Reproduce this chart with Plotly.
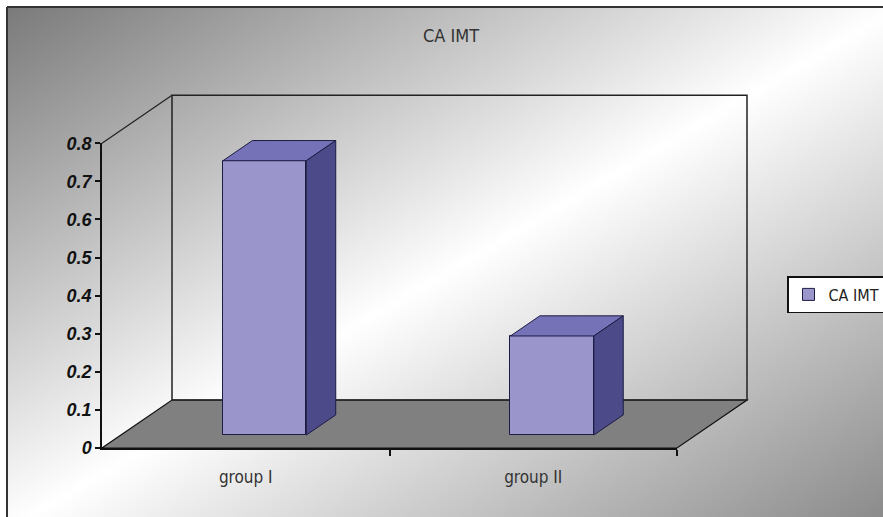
import base64
import plotly.graph_objects as go

# ---- data ----
CATEGORIES = ["group I", "group II"]
VALUES = [0.72, 0.26]
SERIES_NAME = "CA IMT"
TITLE = "CA IMT"
Y_MAX = 0.8
Y_DTICK = 0.1

# ---- styling / geometry constants ----
W, H = 883, 517
FONT = "Liberation Sans Narrow, Arial Narrow, DejaVu Sans Condensed, Liberation Sans, sans-serif"
FRONT_C = "#9a96cc"
TOP_C = "#7672b7"
SIDE_C = "#4c4a89"
EDGE_C = "#1c1c44"
FLOOR_C = "#808080"

# pixel mapping of the "front plane"
X0_PX, X_UNIT = 102, 287.5     # px of x=-0.5 and px per category
Y0_PX, Y_UNIT = 448, 381.0     # px of y=0 and px per value unit
DX, DY = 70 / X_UNIT, 48 / Y_UNIT   # depth offset in data units
D0, D1, HW = 0.27, 0.69, 0.145       # bar depth span and half width

x_lo = -0.5 - X0_PX / X_UNIT
x_hi = -0.5 + (W - X0_PX) / X_UNIT
y_hi = Y0_PX / Y_UNIT
y_lo = -(H - Y0_PX) / Y_UNIT
nc = len(CATEGORIES)
xl, xr = -0.5, nc - 0.5

fig = go.Figure()

# front faces as real bars
fig.add_trace(go.Bar(
    x=[i + D0 * DX for i in range(nc)], y=VALUES, base=[D0 * DY] * nc,
    width=2 * HW, name=SERIES_NAME,
    marker=dict(color=FRONT_C, line=dict(color=EDGE_C, width=1)),
    showlegend=True, hoverinfo="skip",
))

# top and side faces
for i, v in enumerate(VALUES):
    xf_l, xf_r = i - HW + D0 * DX, i + HW + D0 * DX
    xb_l, xb_r = i - HW + D1 * DX, i + HW + D1 * DX
    fig.add_trace(go.Scatter(
        x=[xf_l, xf_r, xb_r, xb_l, xf_l],
        y=[v + D0 * DY, v + D0 * DY, v + D1 * DY, v + D1 * DY, v + D0 * DY],
        fill="toself", fillcolor=TOP_C, mode="lines",
        line=dict(color=EDGE_C, width=1), showlegend=False, hoverinfo="skip"))
    fig.add_trace(go.Scatter(
        x=[xf_r, xf_r, xb_r, xb_r, xf_r],
        y=[D0 * DY, v + D0 * DY, v + D1 * DY, D1 * DY, D0 * DY],
        fill="toself", fillcolor=SIDE_C, mode="lines",
        line=dict(color=EDGE_C, width=1), showlegend=False, hoverinfo="skip"))

# invisible trace for the front-plane axes
fig.add_trace(go.Scatter(x=list(range(nc)), y=[0] * nc, xaxis="x2", yaxis="y2",
                         mode="markers", marker=dict(opacity=0),
                         showlegend=False, hoverinfo="skip"))

shapes = []
# floor
shapes.append(dict(
    type="path", xref="x", yref="y", layer="below",
    path=f"M {xl},0 L {xr},0 L {xr + DX},{DY} L {xl + DX},{DY} Z",
    fillcolor=FLOOR_C, line=dict(color="#111", width=1.2)))
# back wall
shapes.append(dict(type="rect", xref="x", yref="y", layer="below",
                   x0=xl + DX, x1=xr + DX, y0=DY, y1=Y_MAX + DY,
                   line=dict(color="#222", width=1.5)))
# left wall top edge
shapes.append(dict(type="line", xref="x", yref="y", layer="below",
                   x0=xl, y0=Y_MAX, x1=xl + DX, y1=Y_MAX + DY,
                   line=dict(color="#222", width=1.2)))
# outer chart border (left and top)
shapes.append(dict(type="line", xref="paper", yref="paper",
                   x0=7 / W, x1=7 / W, y0=-0.05, y1=1 - 7 / H,
                   line=dict(color="#333", width=2)))
shapes.append(dict(type="line", xref="paper", yref="paper",
                   x0=7 / W, x1=1.05, y0=1 - 7 / H, y1=1 - 7 / H,
                   line=dict(color="#333", width=2)))

# gradient background as SVG
svg = ('<svg xmlns="http://www.w3.org/2000/svg" width="100" height="100" '
       'viewBox="0 0 100 100" preserveAspectRatio="none">'
       '<defs><linearGradient id="g" x1="0" y1="0" x2="1" y2="1">'
       '<stop offset="0" stop-color="#7a7a7a"/>'
       '<stop offset="0.5" stop-color="#ffffff"/>'
       '<stop offset="1" stop-color="#868686"/>'
       '</linearGradient></defs>'
       '<rect x="0" y="0" width="100" height="100" fill="url(#g)"/></svg>')
src = "data:image/svg+xml;base64," + base64.b64encode(svg.encode()).decode()
images = [dict(source=src, xref="paper", yref="paper", x=7 / W, y=1 - 7 / H,
               sizex=(900 - 7) / W, sizey=(530 - 7) / H, sizing="stretch",
               xanchor="left", yanchor="top", layer="below")]

fig.update_layout(
    width=W, height=H, margin=dict(l=0, r=0, t=0, b=0, autoexpand=False),
    paper_bgcolor="white", plot_bgcolor="rgba(0,0,0,0)",
    font=dict(family=FONT, color="#222"),
    title=dict(text=TITLE, x=451 / W, xanchor="center", y=1 - 36 / H,
               yanchor="middle", yref="container",
               font=dict(family=FONT, size=18, color="#333")),
    xaxis=dict(domain=[0, 1], range=[x_lo, x_hi], visible=False, fixedrange=True),
    yaxis=dict(domain=[0, 1], range=[y_lo, y_hi], visible=False, fixedrange=True),
    xaxis2=dict(domain=[X0_PX / W, (X0_PX + nc * X_UNIT) / W], range=[xl, xr],
                anchor="y2", showgrid=False, zeroline=False,
                showline=True, linecolor="#111", linewidth=2,
                tickmode="array", tickvals=list(range(nc)), ticktext=CATEGORIES,
                ticks="", ticklabelstandoff=13,
                tickfont=dict(family=FONT, size=17, color="#333"),
                minor=dict(tickmode="array", tickvals=[i + 0.5 for i in range(nc)],
                           ticks="outside", ticklen=6, tickcolor="#111", tickwidth=1.5)),
    yaxis2=dict(domain=[(H - Y0_PX) / H, (H - Y0_PX + Y_MAX * Y_UNIT) / H],
                range=[0, Y_MAX], anchor="x2", showgrid=False, zeroline=False,
                showline=True, linecolor="#111", linewidth=1.5,
                tickmode="linear", tick0=0, dtick=Y_DTICK,
                ticks="outside", ticklen=5, tickcolor="#111", tickwidth=1.5,
                tickfont=dict(family="Liberation Sans, Arial, sans-serif", size=18,
                              color="#111", weight="bold", style="italic")),
    legend=dict(x=787 / W, y=1 - 276 / H, xanchor="left", yanchor="top",
                bgcolor="white", bordercolor="#111", borderwidth=1.5,
                font=dict(family=FONT, size=16, color="#222"),
                itemclick=False, itemdoubleclick=False),
    shapes=shapes, images=images, bargap=0,
)

fig.write_html("out.html")
